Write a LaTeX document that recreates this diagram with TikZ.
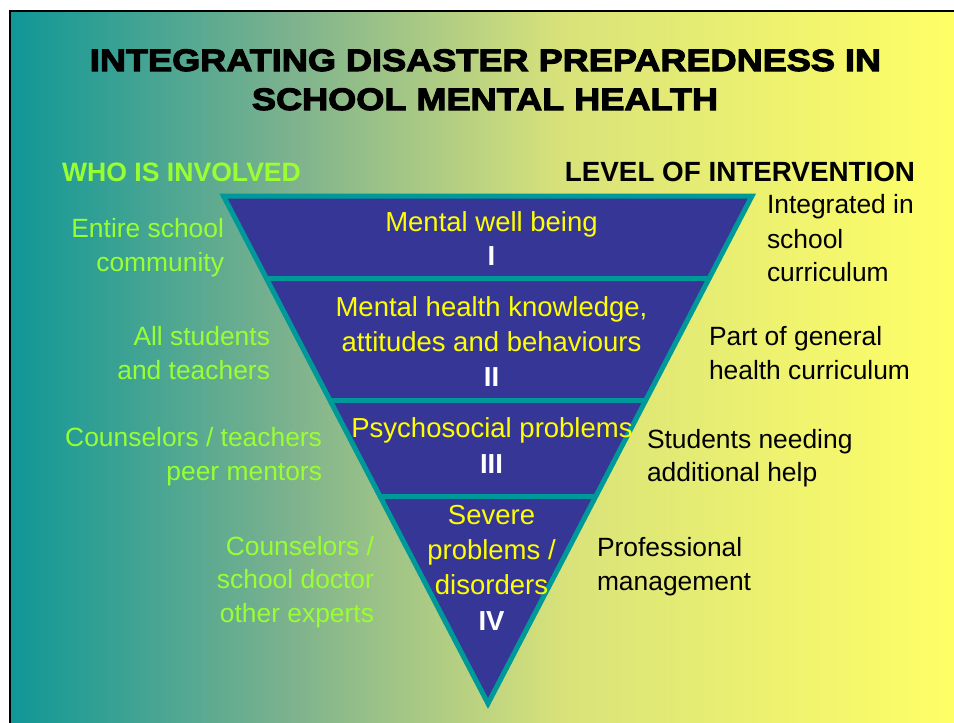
\documentclass[tikz,border=0pt]{standalone}
\usepackage{fontspec}
\setmainfont{Liberation Sans}
\newfontfamily\titlefont[FakeStretch=1.165,FakeBold=3.5]{Liberation Sans}
\usetikzlibrary{calc}
\definecolor{bgA}{RGB}{15,151,151}
\definecolor{bgB}{RGB}{125,178,142}
\definecolor{bgC}{RGB}{216,226,122}
\definecolor{bgD}{RGB}{255,255,102}
\definecolor{triteal}{RGB}{0,153,153}
\definecolor{triblue}{RGB}{54,54,150}
\definecolor{lgreen}{RGB}{153,255,51}
\definecolor{tyellow}{RGB}{255,255,0}
\begin{document}
\begin{tikzpicture}[x=1pt,y=-1pt,
  every node/.style={inner sep=0pt,outer sep=0pt},
  body/.style={font=\fontsize{27.5}{34}\selectfont},
  side/.style={font=\fontsize{26.4}{34}\selectfont},
  head/.style={font=\fontsize{27.5}{34}\selectfont\bfseries},
  ttl/.style={font=\titlefont\fontsize{31}{38}\selectfont\bfseries,anchor=base},
  lefttxt/.style={side,text=lgreen,anchor=base east},
  righttxt/.style={side,text=black,anchor=base west},
  tritxt/.style={body,text=tyellow,anchor=base},
  roman/.style={head,text=white,anchor=base},
  sep/.style={draw=triteal,line width=5pt}]
\useasboundingbox (0,0) rectangle (954,723);
\fill[white] (0,0) rectangle (954,723);
% background gradient
\shade[left color=bgA,right color=bgB] (10,11) rectangle (291,723);
\shade[left color=bgB,right color=bgC] (290,11) rectangle (561,723);
\shade[left color=bgC,right color=bgD] (560,11) rectangle (954,723);
\draw[line width=2.5pt,black] (10,723) -- (10,11) -- (954,11);
% title
\node[ttl] (t1) at (485.5,71) {INTEGRATING DISASTER PREPAREDNESS IN};
\node[ttl] (t2) at (485,110) {SCHOOL MENTAL HEALTH};
% headers
\node[head,font=\fontsize{26.6}{34}\selectfont\bfseries,text=lgreen,anchor=base west] (who) at (62,181.5) {WHO IS INVOLVED};
\node[head,font=\fontsize{27.8}{34}\selectfont\bfseries,text=black,anchor=base east] (lvl) at (915,181.5) {LEVEL OF INTERVENTION};
% triangle
\coordinate (A) at (223.5,196);
\coordinate (B) at (752,196);
\coordinate (C) at (488,703.5);
\fill[triblue] (A) -- (B) -- (C) -- cycle;
\coordinate (L1) at ($(A)!0.1616!(C)$);
\coordinate (R1) at ($(B)!0.1616!(C)$);
\coordinate (L2) at ($(A)!0.403!(C)$);
\coordinate (R2) at ($(B)!0.403!(C)$);
\coordinate (L3) at ($(A)!0.592!(C)$);
\coordinate (R3) at ($(B)!0.592!(C)$);
\draw[sep] (L1) -- (R1);
\draw[sep] (L2) -- (R2);
\draw[sep] (L3) -- (R3);
\draw[draw=triteal,line width=5pt,line join=miter] (A) -- (B) -- (C) -- cycle;
% triangle texts
\node[tritxt] (b1a) at (491.5,231) {Mental well being};
\node[roman] (b1r) at (491.5,265) {I};
\node[tritxt] (b2a) at (491.5,316.5) {Mental health knowledge,};
\node[tritxt] (b2b) at (491.5,351) {attitudes and behaviours};
\node[roman] (b2r) at (491.5,386) {II};
\node[tritxt] (b3a) at (492,437) {Psychosocial problems};
\node[roman] (b3r) at (491.5,473) {III};
\node[tritxt] (b4a) at (491.5,524) {Severe};
\node[tritxt] (b4b) at (491.5,559) {problems /};
\node[tritxt] (b4c) at (491.5,594) {disorders};
\node[roman] (b4r) at (491.5,630) {IV};
% left texts
\node[lefttxt] (l1a) at (224,237) {Entire school};
\node[lefttxt] (l1b) at (224,271) {community};
\node[lefttxt] (l2a) at (270,345) {All students};
\node[lefttxt] (l2b) at (270,379) {and teachers};
\node[lefttxt] (l3a) at (322,446.5) {Counselors / teachers};
\node[lefttxt] (l3b) at (322,480) {peer mentors};
\node[lefttxt] (l4a) at (374,555.5) {Counselors /};
\node[lefttxt] (l4b) at (374,588.5) {school doctor};
\node[lefttxt] (l4c) at (374,622) {other experts};
% right texts
\node[righttxt] (r1a) at (767,213.5) {Integrated in};
\node[righttxt] (r1b) at (767,248) {school};
\node[righttxt] (r1c) at (767,281) {curriculum};
\node[righttxt] (r2a) at (709,345) {Part of general};
\node[righttxt] (r2b) at (709,379) {health curriculum};
\node[righttxt] (r3a) at (647,448.5) {Students needing};
\node[righttxt] (r3b) at (647,481.5) {additional help};
\node[righttxt] (r4a) at (597,556.5) {Professional};
\node[righttxt] (r4b) at (597,590) {management};
\end{tikzpicture}
\end{document}
